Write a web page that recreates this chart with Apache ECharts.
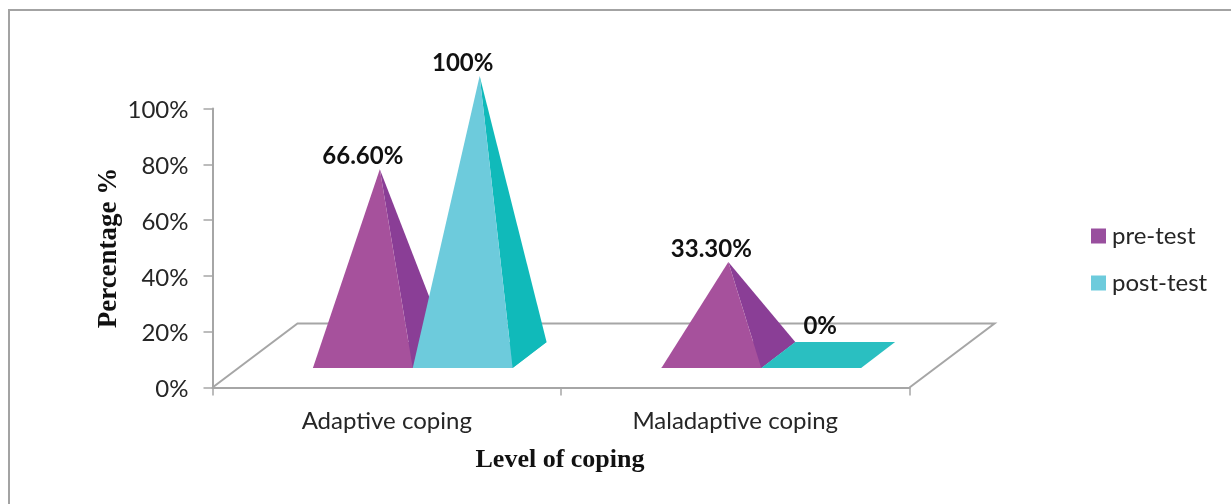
<!DOCTYPE html>
<html>
<head>
<meta charset="utf-8">
<style>html,body{margin:0;padding:0;background:#fff}#c{width:1231px;height:504px}</style>
<script src="https://cdn.jsdelivr.net/npm/echarts@6/dist/echarts.min.js"></script>
</head>
<body>
<div id="c"></div>
<script>
var categories = ['Adaptive coping', 'Maladaptive coping'];
var preTest = [66.6, 33.3];
var postTest = [100, 0];
var preLabels = ['66.60%', '33.30%'];
var postLabels = ['100%', '0%'];
var yTicks = [0, 20, 40, 60, 80, 100];

var FONT = 'Lato, "Open Sans", sans-serif';
var DEPTH_X = 34, DEPTH_Y = -26, LIFT = 19.5, WIDTH_RATIO = 0.2865, SHIFT = 26;

function pts(arr) { return { points: arr }; }

function pyramid(slot, labels, front, side, flat) {
  return function (params, api) {
    var cat = api.value(0), val = api.value(1);
    var base = api.coord([cat, 0]);
    var top = api.coord([cat, val]);
    var w = api.size([1, 0])[0] * WIDTH_RATIO;
    var fy = base[1] - LIFT;
    var fl = base[0] + SHIFT + (slot - 1) * w;
    var fr = fl + w;
    var FL = [fl, fy], FR = [fr, fy], BR = [fr + DEPTH_X, fy + DEPTH_Y], BL = [fl + DEPTH_X, fy + DEPTH_Y];
    var h = base[1] - top[1];
    var apex = [fl + w / 2 + DEPTH_X / 2, fy + DEPTH_Y / 2 - h];
    var zero = val === 0;
    var kids = [{ type: 'polygon', shape: pts([FL, FR, BR, BL]), style: { fill: flat } }];
    if (!zero) {
      kids.push({ type: 'polygon', shape: pts([FR, BR, apex]), style: { fill: side } });
      kids.push({ type: 'polygon', shape: pts([FL, FR, apex]), style: { fill: front } });
    }
    kids.push({ type: 'text', z2: 10, style: {
      x: apex[0] + (zero ? -8 : -17), y: apex[1] + (zero ? -28.5 : -12.5),
      text: labels[params.dataIndex], align: 'center', verticalAlign: 'middle',
      fill: '#111', font: 'bold 24px ' + FONT } });
    return { type: 'group', children: kids };
  };
}

function floor(params, api) {
  var l = api.coord([0, 0]), r = api.coord([1, 0]);
  var half = api.size([1, 0])[0] / 2;
  var a = [l[0] - half, l[1]], b = [r[0] + half, r[1]];
  var dx = 85, dy = -64;
  return {
    type: 'polyline',
    shape: pts([a, [a[0] + dx, a[1] + dy], [b[0] + dx, b[1] + dy], b]),
    style: { fill: null, stroke: '#a6a6a6', lineWidth: 2 }
  };
}

var chart = echarts.init(document.getElementById('c'), null, { renderer: 'canvas' });
chart.setOption({
  animation: false,
  backgroundColor: '#fff',
  graphic: [{ type: 'polyline', silent: true, z: -10,
    shape: { points: [[9, 504], [9, 10], [1231, 10]] },
    style: { fill: null, stroke: '#a3a3a3', lineWidth: 2 } }],
  grid: { left: 212.5, right: 321.5, top: 108.5, bottom: 116.5 },
  legend: {
    left: 1086, top: 219, orient: 'vertical', itemWidth: 15, itemHeight: 15, itemGap: 23,
    icon: 'rect', data: ['pre-test', 'post-test'],
    textStyle: { fontFamily: FONT, fontSize: 24, color: '#262626', padding: [0, 0, 0, 1] }
  },
  xAxis: {
    type: 'category', data: categories,
    name: 'Level of coping', nameLocation: 'middle', nameGap: 60, nameMoveOverlap: false,
    nameTextStyle: { fontFamily: '"Liberation Serif", serif', fontWeight: 'bold', fontSize: 26, color: '#111', padding: [0, 2, 0, 0] },
    axisLine: { lineStyle: { color: '#a6a6a6', width: 2 } },
    axisTick: { show: true, length: 8, alignWithLabel: false, lineStyle: { color: '#a6a6a6', width: 1.5 } },
    axisLabel: { fontFamily: FONT, fontSize: 24, color: '#262626', margin: 22 }
  },
  yAxis: {
    type: 'value', min: 0, max: 100, interval: 20,
    name: 'Percentage %', nameLocation: 'middle', nameGap: 90, nameMoveOverlap: false,
    nameTextStyle: { fontFamily: '"Liberation Serif", serif', fontWeight: 'bold', fontSize: 27, color: '#111' },
    axisLine: { show: true, lineStyle: { color: '#a6a6a6', width: 2 } },
    axisTick: { show: true, length: 9, lineStyle: { color: '#a6a6a6', width: 1.5 } },
    splitLine: { show: false },
    axisLabel: { margin: 24,
      rich: { t: { fontFamily: FONT, fontSize: 24, color: '#262626', padding: [4, 0, 0, 0] } },
      formatter: function (v) { return yTicks.indexOf(v) >= 0 ? '{t|' + v + '%}' : ''; } }
  },
  series: [
    { type: 'custom', name: 'floor', silent: true, z: 1, renderItem: floor, data: [[0, 0]], encode: { x: 0, y: 1 } },
    { type: 'custom', name: 'pre-test', z: 2, itemStyle: { color: '#994F9E' },
      renderItem: pyramid(0, preLabels, '#A6519C', '#8A3E96', '#8A3E96'),
      data: preTest.map(function (v, i) { return [i, v]; }), encode: { x: 0, y: 1 } },
    { type: 'custom', name: 'post-test', z: 3, itemStyle: { color: '#6DCBDC' },
      renderItem: pyramid(1, postLabels, '#6DCBDC', '#10BABA', '#2ABFC1'),
      data: postTest.map(function (v, i) { return [i, v]; }), encode: { x: 0, y: 1 } }
  ]
});
</script>
</body>
</html>
